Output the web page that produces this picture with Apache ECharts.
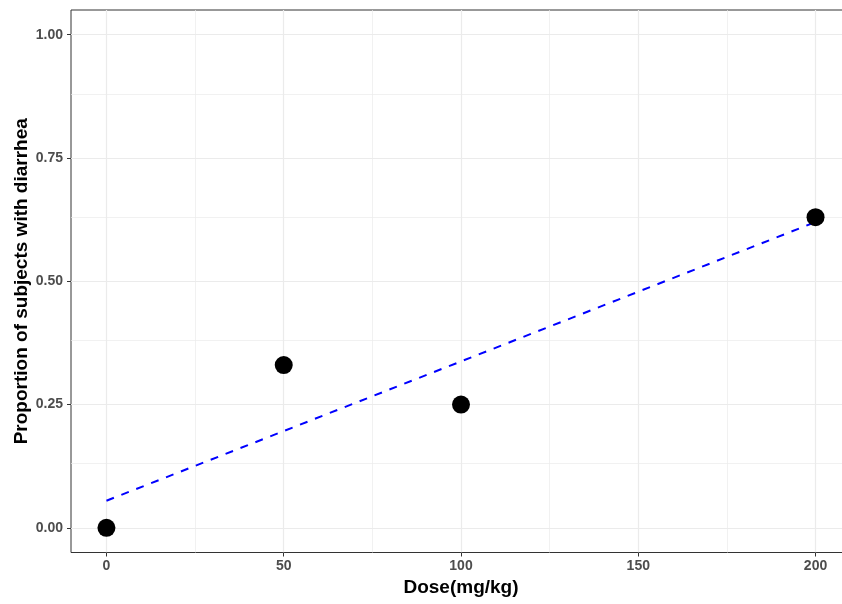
<!DOCTYPE html>
<html>
<head>
<meta charset="utf-8">
<script src="https://cdn.jsdelivr.net/npm/echarts@6/dist/echarts.min.js"></script>
<style>
  html, body { margin: 0; padding: 0; background: #ffffff; }
  #chart { width: 842px; height: 604px; }
</style>
</head>
<body>
<div id="chart"></div>
<script>
// Observed proportions by dose
const doses = [0, 50, 100, 200];
const proportions = [0, 0.33, 0.25, 0.63];

// Fitted linear trend (end points)
const fitDoses = [0, 200];
const fitValues = [0.055, 0.62];

// Axis breaks
const xBreaks = [0, 50, 100, 150, 200];
const xMinorBreaks = [25, 75, 125, 175];
const yBreaks = [0, 0.25, 0.5, 0.75, 1.0];
const yMinorBreaks = [0.125, 0.375, 0.625, 0.875];

const FONT = '"Liberation Sans", Arial, sans-serif';

const chart = echarts.init(document.getElementById('chart'), null, { renderer: 'canvas' });

function gridLines(values, key, width) {
  return values.map(v => ({ [key]: v, lineStyle: { color: '#EBEBEB', width: width, type: 'solid' } }));
}

const option = {
  backgroundColor: '#ffffff',
  animation: false,
  grid: {
    left: 71, top: 10, width: 780, height: 542.5,
    outerBoundsMode: 'none',
    containLabel: false,
    show: true, borderColor: '#333333', borderWidth: 1,
    backgroundColor: 'transparent'
  },
  xAxis: {
    type: 'value', min: -10, max: 210,
    name: 'Dose(mg/kg)', nameLocation: 'middle', nameGap: 26, nameMoveOverlap: false,
    nameTextStyle: { fontFamily: FONT, fontWeight: 'bold', fontSize: 19, color: '#000000' },
    axisLine: { show: false, onZero: false },
    splitLine: { show: false },
    axisTick: { show: true, customValues: xBreaks, length: 4, lineStyle: { color: '#333333', width: 1 } },
    axisLabel: {
      customValues: xBreaks, margin: 7,
      fontFamily: FONT, fontWeight: 'bold', fontSize: 14, color: '#4D4D4D'
    }
  },
  yAxis: {
    type: 'value', min: -0.05, max: 1.05,
    name: 'Proportion of subjects with diarrhea', nameLocation: 'middle', nameGap: 40, nameMoveOverlap: false,
    nameTextStyle: { fontFamily: FONT, fontWeight: 'bold', fontSize: 19, color: '#000000' },
    axisLine: { show: false, onZero: false },
    splitLine: { show: false },
    axisTick: { show: true, customValues: yBreaks, length: 4, lineStyle: { color: '#333333', width: 1 } },
    axisLabel: {
      customValues: yBreaks, margin: 8,
      fontFamily: FONT, fontWeight: 'bold', fontSize: 14, color: '#4D4D4D',
      formatter: v => v.toFixed(2)
    }
  },
  series: [
    {
      // panel grid lines
      type: 'line', data: [], z: 0, silent: true,
      markLine: {
        z: 0,
        silent: true, symbol: ['none', 'none'], label: { show: false },
        emphasis: { disabled: true },
        data: [].concat(
          gridLines(xMinorBreaks, 'xAxis', 0.7),
          gridLines(yMinorBreaks, 'yAxis', 0.7),
          gridLines(xBreaks, 'xAxis', 1.2),
          gridLines(yBreaks, 'yAxis', 1.2)
        )
      }
    },
    {
      type: 'line', z: 2, silent: true,
      data: fitDoses.map((d, i) => [d, fitValues[i]]),
      symbol: 'none',
      lineStyle: { color: '#0000FF', width: 2, type: [8, 8] }
    },
    {
      type: 'scatter', z: 3, silent: true,
      data: doses.map((d, i) => [d, proportions[i]]),
      symbol: 'circle', symbolSize: 18,
      itemStyle: { color: '#000000', opacity: 1 }
    }
  ]
};

chart.setOption(option);
</script>
</body>
</html>
